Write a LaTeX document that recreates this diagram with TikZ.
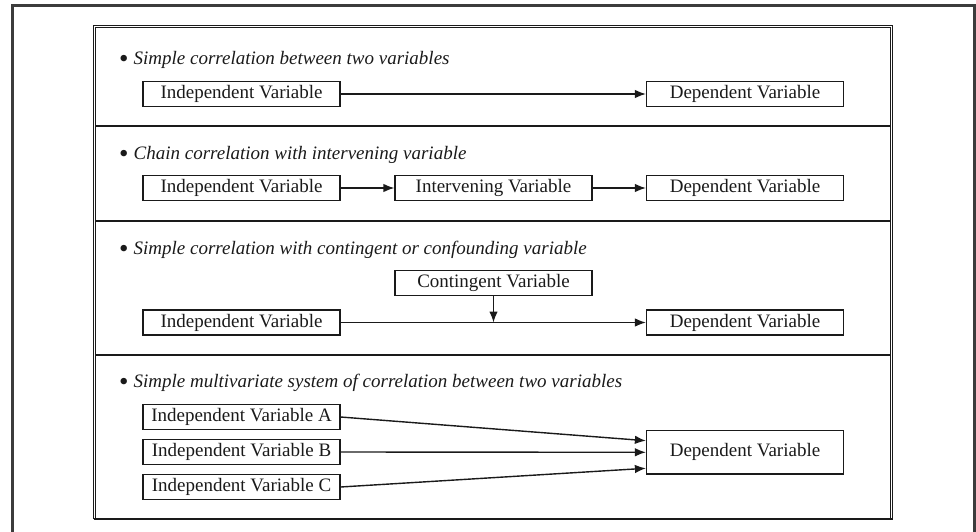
\documentclass[tikz,border=0pt]{standalone}
\usepackage{fontspec}
\setmainfont{Liberation Serif}
\usetikzlibrary{arrows.meta,calc}

\definecolor{ink}{HTML}{1A1A1A}
\newcommand{\bigdot}{\raisebox{-2.8pt}{\fontsize{27}{27}\selectfont\textbullet}\hspace{5pt}}

\begin{document}
\begin{tikzpicture}[x=1pt,y=-1pt,
    varbox/.style={draw=ink, line width=1.2pt, inner sep=0pt, minimum width=197pt,
      minimum height=25pt, text=ink, font=\fontsize{19}{20}\selectfont},
    head/.style={anchor=west, inner sep=0pt, text=ink, font=\fontsize{19}{22}\selectfont},
    link/.style={draw=ink, line width=1.4pt, -{Latex[length=11pt,width=8.5pt]}},
    sep/.style={draw=ink, line width=1.2pt}]
  \useasboundingbox (0,0) rectangle (976,532);

  % Outer frame
  \draw[line width=3pt, draw=ink!85] (12,540) -- (12,6) -- (974,6) -- (974,540);

  % Inner table
  \draw[draw=ink, double, double distance=1.3pt, line width=0.9pt]
    (94.8,519) -- (94.8,26.5) -- (891.8,26.5) -- (891.8,519);
  \draw[draw=ink, line width=2.4pt] (93.7,519) -- (893,519);
  \draw[sep] (96,126) -- (891,126);
  \draw[sep] (96,221) -- (891,221);
  \draw[sep] (96,355) -- (891,355);

  % Simple correlation
  \node[head] (h1) at (119,60) {\bigdot\textit{Simple correlation between two variables}};
  \node[varbox] (ind1) at (241.5,94) {Independent Variable};
  \node[varbox] (dep1) at (745,94) {Dependent Variable};
  \draw[link] (ind1) -- (dep1);

  % Chain correlation
  \node[head] (h2) at (119,155) {\bigdot\textit{Chain correlation with intervening variable}};
  \node[varbox] (ind2) at (241.5,188) {Independent Variable};
  \node[varbox] (int2) at (493.5,188) {Intervening Variable};
  \node[varbox] (dep2) at (745,188) {Dependent Variable};
  \draw[link] (ind2) -- (int2);
  \draw[link] (int2) -- (dep2);

  % Contingent variable
  \node[head] (h3) at (119,250) {\bigdot\textit{Simple correlation with contingent or confounding variable}};
  \node[varbox] (con3) at (493.5,283) {Contingent Variable};
  \node[varbox] (ind3) at (241.5,322.5) {Independent Variable};
  \node[varbox] (dep3) at (745,322.5) {Dependent Variable};
  \draw[link] (ind3) -- (dep3);
  \coordinate (hit3) at (con3.south |- ind3.east);
  \draw[link] (con3.south) -- (hit3);

  % Multivariate system
  \node[head] (h4) at (119,383) {\bigdot\textit{Simple multivariate system of correlation between two variables}};
  \node[varbox] (indA) at (241.5,417) {Independent Variable A};
  \node[varbox] (indB) at (241.5,452) {Independent Variable B};
  \node[varbox] (indC) at (241.5,487) {Independent Variable C};
  \node[varbox, minimum height=43.5pt] (dep4) at (745,452.3) {Dependent Variable};
  \coordinate (tA) at ([yshift=11.6pt]dep4.west);
  \coordinate (tC) at ([yshift=-16pt]dep4.west);
  \draw[link] (indA.east) -- (tA);
  \draw[link] (indB.east) -- (dep4.west);
  \draw[link] (indC.east) -- (tC);
\end{tikzpicture}
\end{document}
